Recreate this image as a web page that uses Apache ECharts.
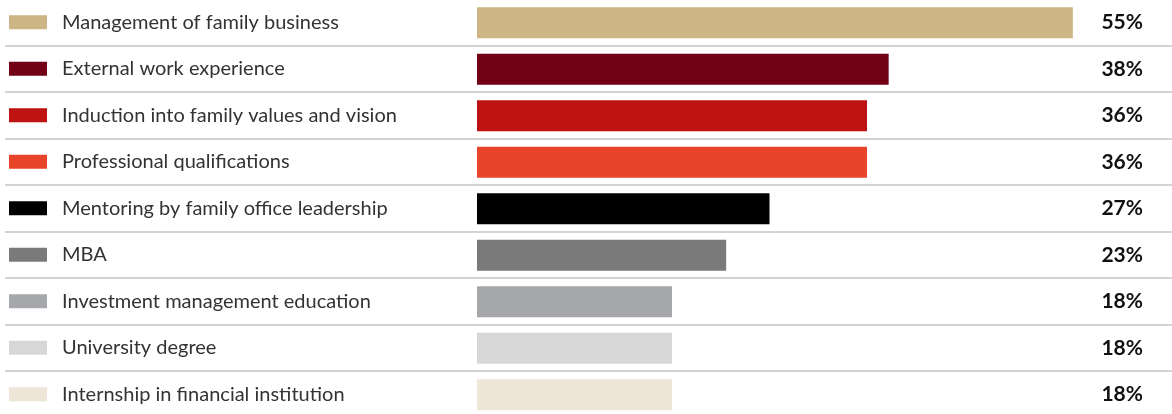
<!DOCTYPE html>
<html>
<head>
<meta charset="utf-8">
<script src="https://cdn.jsdelivr.net/npm/echarts@6/dist/echarts.min.js"></script>
<style>
  html, body { margin: 0; padding: 0; background: #fff; }
  #chart { width: 1172px; height: 414px; }
</style>
</head>
<body>
<div id="chart"></div>
<script>
const categories = [
  "Management of family business",
  "External work experience",
  "Induction into family values and vision",
  "Professional qualifications",
  "Mentoring by family office leadership",
  "MBA",
  "Investment management education",
  "University degree",
  "Internship in financial institution",
];
const values = [55, 38, 36, 36, 27, 23, 18, 18, 18];
const colors = [
  "#cdb585", "#720017", "#bf1212", "#e8442a", "#000000",
  "#7a7a7a", "#a5a7aa", "#d7d7d7", "#efe6da",
];

const rich = {
  t: { fontFamily: "Lato", fontSize: 20, color: "#333", padding: [0, 0, 0, 15], verticalAlign: "middle" },
};
colors.forEach((c, i) => {
  rich["s" + i] = { width: 38, height: 14, backgroundColor: c, verticalAlign: "middle" };
});

const chart = echarts.init(document.getElementById("chart"));
chart.setOption({
  animation: false,
  grid: [
    // full-width grid for row separators, labels and values
    { left: 5, right: 0, top: -1, height: 418.5, outerBoundsMode: "none" },
    // bars
    { left: 477, right: 45, top: -0.5, height: 418.5, outerBoundsMode: "none" },
  ],
  xAxis: [
    { gridIndex: 0, type: "value", show: false, min: 0, max: 1 },
    { gridIndex: 1, type: "value", show: false, min: 0, max: 60 },
  ],
  yAxis: [
    {
      gridIndex: 0,
      type: "category",
      inverse: true,
      data: categories,
      axisLine: { show: false },
      axisTick: { show: false },
      splitLine: { show: true, lineStyle: { color: "#c4c4c4", width: 1.5 } },
      axisLabel: {
        inside: true,
        margin: 4,
        formatter: (v, i) => "{s" + i + "|}{t|" + v + "}",
        rich,
      },
    },
    {
      gridIndex: 0,
      type: "category",
      position: "right",
      inverse: true,
      data: values.map((v) => v + "%"),
      axisLine: { show: false },
      axisTick: { show: false },
      axisLabel: {
        inside: true,
        margin: 29,
        fontFamily: "Lato",
        fontSize: 21,
        fontWeight: "bold",
        color: "#111",
      },
    },
    {
      gridIndex: 1,
      type: "category",
      inverse: true,
      data: categories,
      show: false,
    },
  ],
  series: [
    {
      type: "bar",
      xAxisIndex: 1,
      yAxisIndex: 2,
      barWidth: 31,
      data: values.map((v, i) => ({ value: v, itemStyle: { color: colors[i] } })),
    },
  ],
});
</script>
</body>
</html>
